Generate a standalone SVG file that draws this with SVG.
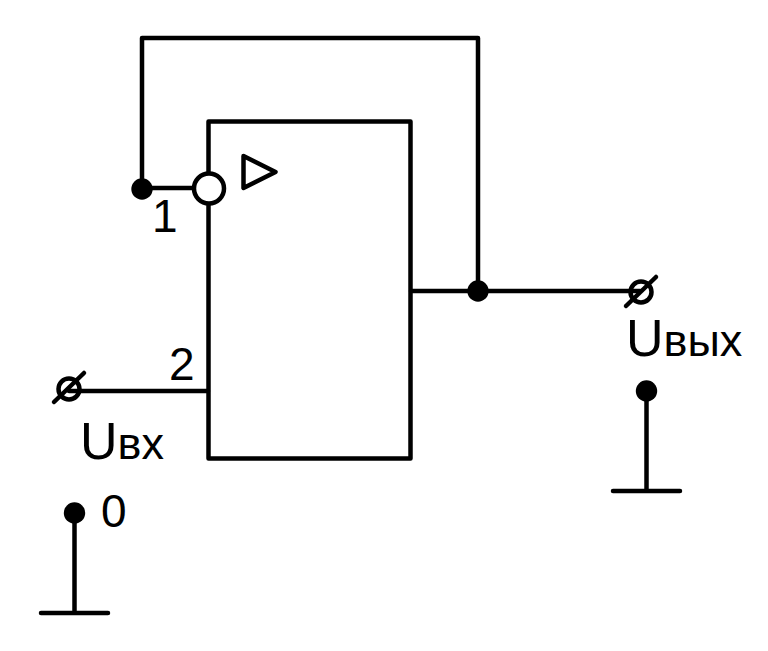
<svg xmlns="http://www.w3.org/2000/svg" width="768" height="651" viewBox="0 0 768 651">
<style>
.l{fill:none;stroke:#000;stroke-width:4.5;stroke-linecap:round;stroke-linejoin:round}
.d{fill:#000;stroke:none}
text{font-family:"Liberation Sans",Arial,sans-serif;fill:#000}
.n{font-size:46px}
.u{font-size:52px}
.s{font-size:45px}
</style>
<rect width="768" height="651" fill="#fff"/>
<g id="connectors">
<path class="l" d="M142 189V38H478V291"/>
<path class="l" d="M142 188H193"/>
<path class="l" d="M411 291H640"/>
<path class="l" d="M69 391H208"/>
</g>
<g id="block">
<rect class="l" x="208.500" y="121.500" width="202" height="337"/>
<circle cx="209" cy="188.500" r="15" fill="#fff" stroke="#000" stroke-width="4.500"/>
<path class="l" d="M243.500 156L275.500 172L243.500 188Z"/>
</g>
<g id="junctions">
<circle class="d" cx="142" cy="189" r="10.700"/>
<circle class="d" cx="478" cy="291" r="10.700"/>
</g>
<g id="terminal-out">
<circle cx="641" cy="292" r="10.500" fill="none" stroke="#000" stroke-width="4.500"/>
<path class="l" d="M626 306L656 277"/>
</g>
<g id="terminal-in">
<circle cx="69" cy="389" r="10.500" fill="none" stroke="#000" stroke-width="4.500"/>
<path class="l" d="M54 402L84 373"/>
</g>
<g id="ground-out">
<circle class="d" cx="646.500" cy="391" r="10.700"/>
<path class="l" d="M646.500 391V491M613 491H680"/>
</g>
<g id="ground-in">
<circle class="d" cx="74.500" cy="513" r="10.700"/>
<path class="l" d="M74.500 513V613M41 613H108"/>
</g>
<g id="labels">
<text class="n" x="152" y="232">1</text>
<text class="n" x="169" y="380">2</text>
<text class="n" x="101" y="527">0</text>
<text x="626" y="356"><tspan class="u">U</tspan><tspan class="s">вых</tspan></text>
<text x="80" y="459"><tspan class="u">U</tspan><tspan class="s">вх</tspan></text>
</g>
</svg>
